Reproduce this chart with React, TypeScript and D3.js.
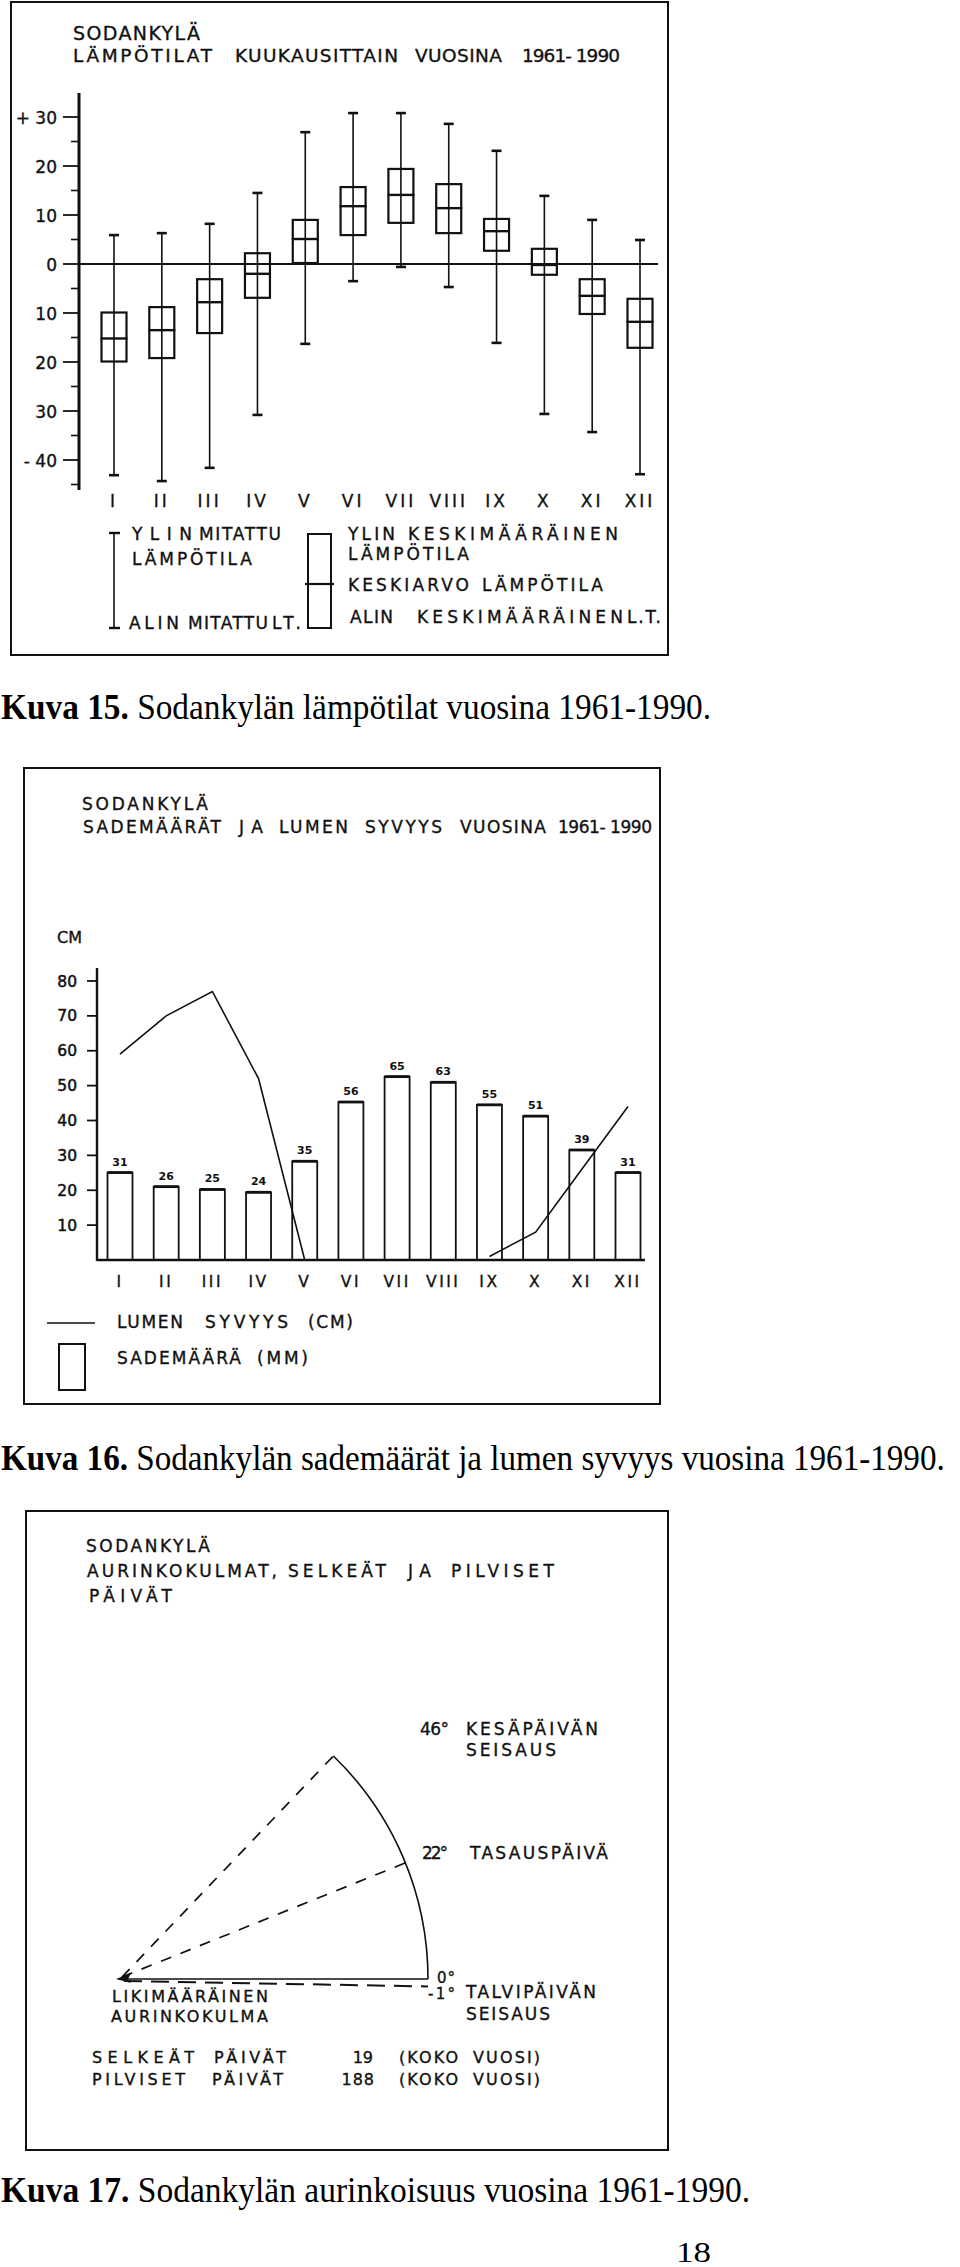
import React, { useLayoutEffect, useRef, useState } from "react";
import * as d3 from "d3";

// ---------- DATA ----------
const months = ["I", "II", "III", "IV", "V", "VI", "VII", "VIII", "IX", "X", "XI", "XII"];

// Kuva 15: temperatures (°C)
const tempMax = [5.9, 6.3, 8.2, 14.5, 26.9, 30.8, 30.8, 28.6, 23.1, 13.9, 9.0, 4.9];
const tempMeanMax = [-9.9, -8.8, -3.1, 2.2, 9.0, 15.7, 19.4, 16.3, 9.2, 3.1, -3.1, -7.1];
const tempMean = [-15.2, -13.5, -7.8, -2.0, 5.1, 11.8, 14.1, 11.4, 6.7, -0.2, -6.5, -11.8];
const tempMeanMin = [-19.9, -19.2, -14.1, -6.9, 0.2, 5.9, 8.4, 6.3, 2.7, -2.2, -10.2, -17.1];
const tempMin = [-43.1, -44.3, -41.6, -30.8, -16.3, -3.5, -0.6, -4.7, -16.1, -30.6, -34.3, -42.9];
const tempTicks = [30, 20, 10, 0, -10, -20, -30, -40];
const tempTickLabels = ["+ 30", "20", "10", "0", "10", "20", "30", "- 40"];
const tempMinorTicks = [25, 15, 5, -5, -15, -25, -35, -45];

// Kuva 16: precipitation (mm) and snow depth (cm)
const precipMm = [31, 26, 25, 24, 35, 56, 65, 63, 55, 51, 39, 31];
const snowCm: (number | null)[] = [59, 70, 77, 52, 0, null, null, null, 1, 8, 26, 44];
const cmTicks = [10, 20, 30, 40, 50, 60, 70, 80];

// Kuva 17: sun angles (degrees)
const sunRays = [46, 22];
const sunArc = [0, 46];
const sunLow = -1;
const clearDays = "19";
const cloudyDays = "188";

// ---------- HELPERS ----------
const SANS = "'DejaVu Sans', 'Noto Sans', sans-serif";
const SERIF = "'Liberation Serif', 'Times New Roman', serif";
const INK = "#111";
const TS = 0.35; // slight stroke to thicken the lettering

type Piece = [string, number, number];
function Pieces({ y, fs, pieces }: { y: number; fs: number; pieces: Piece[] }) {
  return (
    <>
      {pieces.map(([s, x0, x1], i) => (
        <text
          key={i}
          x={x0}
          y={y}
          fontSize={fs}
          fontFamily={SANS}
          fill={INK}
          stroke={INK}
          strokeWidth={TS}
          textLength={x1 - x0}
          lengthAdjust="spacing"
        >
          {s}
        </text>
      ))}
    </>
  );
}

function Caption({ y, w, bold, rest }: { y: number; w: number; bold: string; rest: string }) {
  const ref = useRef<SVGTextElement>(null);
  const [sx, setSx] = useState(0.9);
  useLayoutEffect(() => {
    const el = ref.current;
    if (el) {
      const n = el.getComputedTextLength();
      if (n > 0) setSx(w / n);
    }
  }, [w]);
  return (
    <text
      ref={ref}
      transform={`translate(1,${y}) scale(${sx},1)`}
      x={0}
      y={0}
      fontSize={36}
      fontFamily={SERIF}
      fill="#000"
    >
      <tspan fontWeight="bold">{bold}</tspan>
      <tspan>{rest}</tspan>
    </text>
  );
}

// ---------- FIGURE 1 ----------
function Fig1() {
  const x = d3.scalePoint<string>().domain(months).range([114, 640]);
  const y = d3.scaleLinear().domain([-40, 30]).range([460, 117]);
  const axisX = 79;
  const boxW = 25;
  const capW = 10;
  return (
    <g>
      <rect x={11} y={2} width={657} height={653} fill="none" stroke={INK} strokeWidth={2} />
      <Pieces y={40} fs={19} pieces={[["SODANKYLÄ", 73, 200]]} />
      <Pieces
        y={62}
        fs={18.5}
        pieces={[
          ["LÄMPÖTILAT", 73, 212],
          ["KUUKAUSITTAIN", 235, 398],
          ["VUOSINA", 415, 502],
          ["1961- 1990", 522, 620],
        ]}
      />
      {/* axis */}
      <line x1={axisX} x2={axisX} y1={93} y2={490} stroke={INK} strokeWidth={3} />
      <line x1={axisX} x2={658} y1={y(0)} y2={y(0)} stroke={INK} strokeWidth={2.2} />
      {tempTicks.map((t, i) => (
        <g key={t}>
          <line x1={axisX - 16} x2={axisX} y1={y(t)} y2={y(t)} stroke={INK} strokeWidth={1.8} />
          <text
            x={57}
            y={y(t) + 6.5}
            fontSize={17}
            fontFamily={SANS}
            textAnchor="end"
            fill={INK}
            stroke={INK}
            strokeWidth={TS}
          >
            {tempTickLabels[i]}
          </text>
        </g>
      ))}
      {tempMinorTicks.map((t) => (
        <line key={t} x1={axisX - 8} x2={axisX} y1={y(t)} y2={y(t)} stroke={INK} strokeWidth={1.6} />
      ))}
      {/* boxes */}
      {months.map((m, i) => {
        const cx = x(m)!;
        return (
          <g key={m}>
            <line x1={cx} x2={cx} y1={y(tempMax[i])} y2={y(tempMin[i])} stroke={INK} strokeWidth={1.6} />
            <line x1={cx - capW / 2} x2={cx + capW / 2} y1={y(tempMax[i])} y2={y(tempMax[i])} stroke={INK} strokeWidth={2.6} />
            <line x1={cx - capW / 2} x2={cx + capW / 2} y1={y(tempMin[i])} y2={y(tempMin[i])} stroke={INK} strokeWidth={2.6} />
            <rect
              x={cx - boxW / 2}
              y={y(tempMeanMax[i])}
              width={boxW}
              height={y(tempMeanMin[i]) - y(tempMeanMax[i])}
              fill="none"
              stroke={INK}
              strokeWidth={2.2}
            />
            <line x1={cx - boxW / 2 - 1} x2={cx + boxW / 2 + 1} y1={y(tempMean[i])} y2={y(tempMean[i])} stroke={INK} strokeWidth={2.4} />
            <text
              x={cx}
              y={507}
              fontSize={17}
              fontFamily={SANS}
              textAnchor="middle"
              letterSpacing={3}
              fill={INK}
              stroke={INK}
              strokeWidth={TS}
            >
              {m}
            </text>
          </g>
        );
      })}
      {/* legend */}
      <line x1={114} x2={114} y1={533} y2={628} stroke={INK} strokeWidth={1.6} />
      <line x1={109} x2={120} y1={533} y2={533} stroke={INK} strokeWidth={2.4} />
      <line x1={109} x2={120} y1={628} y2={628} stroke={INK} strokeWidth={2.4} />
      <Pieces y={540} fs={17} pieces={[["YLIN", 132, 192], ["MITATTU", 199, 281]]} />
      <Pieces y={565} fs={17} pieces={[["LÄMPÖTILA", 132, 252]]} />
      <Pieces y={629} fs={17} pieces={[["ALIN", 129, 179], ["MITATTU", 188, 268], ["LT.", 272, 301]]} />
      <rect x={308} y={534} width={23} height={94} fill="none" stroke={INK} strokeWidth={2} />
      <line x1={305} x2={334} y1={584} y2={584} stroke={INK} strokeWidth={2.2} />
      <Pieces y={540} fs={17} pieces={[["YLIN", 348, 395], ["KESKIMÄÄRÄINEN", 408, 618]]} />
      <Pieces y={560} fs={17} pieces={[["LÄMPÖTILA", 348, 469]]} />
      <Pieces y={591} fs={17} pieces={[["KESKIARVO", 348, 469], ["LÄMPÖTILA", 482, 603]]} />
      <Pieces y={623} fs={17} pieces={[["ALIN", 350, 393], ["KESKIMÄÄRÄINEN", 417, 623], ["L.T.", 627, 661]]} />
    </g>
  );
}

// ---------- FIGURE 2 ----------
function Fig2() {
  const x = d3.scalePoint<string>().domain(months).range([120, 628]);
  const yCm = d3.scaleLinear().domain([0, 80]).range([1260, 981]);
  const yMm = d3.scaleLinear().domain([0, 98.9]).range([1260, 981]);
  const axisX = 97;
  const barW = 25;
  const line = d3
    .line<number | null>()
    .defined((d) => d != null)
    .x((_, i) => x(months[i])!)
    .y((d) => yCm(d as number));
  return (
    <g>
      <rect x={24} y={768} width={636} height={636} fill="none" stroke={INK} strokeWidth={2} />
      <Pieces y={810} fs={17} pieces={[["SODANKYLÄ", 82, 208]]} />
      <Pieces
        y={833}
        fs={17}
        pieces={[
          ["SADEMÄÄRÄT", 83, 221],
          ["JA", 239, 263],
          ["LUMEN", 279, 348],
          ["SYVYYS", 365, 442],
          ["VUOSINA", 460, 546],
          ["1961- 1990", 558, 652],
        ]}
      />
      <Pieces y={943} fs={16} pieces={[["CM", 57, 82]]} />
      <line x1={axisX} x2={axisX} y1={968} y2={1261} stroke={INK} strokeWidth={2.4} />
      {cmTicks.map((t) => (
        <g key={t}>
          <line x1={axisX - 10} x2={axisX} y1={yCm(t)} y2={yCm(t)} stroke={INK} strokeWidth={1.8} />
          <text
            x={77}
            y={yCm(t) + 5.5}
            fontSize={15.5}
            fontFamily={SANS}
            textAnchor="end"
            fill={INK}
            stroke={INK}
            strokeWidth={0.5}
          >
            {t}
          </text>
        </g>
      ))}
      {months.map((m, i) => {
        const cx = x(m)!;
        const top = yMm(precipMm[i]);
        return (
          <g key={m}>
            <rect x={cx - barW / 2} y={top} width={barW} height={1260 - top} fill="#fff" stroke={INK} strokeWidth={1.8} />
            <line x1={cx - barW / 2} x2={cx + barW / 2} y1={top} y2={top} stroke={INK} strokeWidth={2.8} />
            <text x={cx} y={top - 7} fontSize={11} fontWeight="bold" fontFamily={SANS} textAnchor="middle" fill={INK}>
              {precipMm[i]}
            </text>
            <text
              x={cx}
              y={1287}
              fontSize={15.5}
              fontFamily={SANS}
              textAnchor="middle"
              letterSpacing={2.5}
              fill={INK}
              stroke={INK}
              strokeWidth={TS}
            >
              {m}
            </text>
          </g>
        );
      })}
      <line x1={axisX} x2={645} y1={1260} y2={1260} stroke={INK} strokeWidth={2.4} />
      <path d={line(snowCm) || ""} fill="none" stroke={INK} strokeWidth={1.6} />
      {/* legend */}
      <line x1={47} x2={95} y1={1323} y2={1323} stroke={INK} strokeWidth={1.6} />
      <Pieces y={1328} fs={17} pieces={[["LUMEN", 117, 183], ["SYVYYS", 205, 288], ["(CM)", 308, 353]]} />
      <rect x={59} y={1344} width={26} height={46} fill="none" stroke={INK} strokeWidth={2} />
      <Pieces y={1364} fs={17} pieces={[["SADEMÄÄRÄ", 117, 241], ["(MM)", 257, 308]]} />
    </g>
  );
}

// ---------- FIGURE 3 ----------
function Fig3() {
  const cx = 118;
  const cy = 1979;
  const r = 310;
  const rad = d3.scaleLinear().domain([0, 180]).range([0, Math.PI]);
  const pt = (deg: number) => [cx + r * Math.cos(rad(deg)), cy - r * Math.sin(rad(deg))];
  const arc = d3.path();
  const a0 = pt(sunArc[0]);
  arc.moveTo(a0[0], a0[1]);
  arc.arc(cx, cy, r, -rad(sunArc[0]), -rad(sunArc[1]), true);
  const p0 = pt(0);
  const pLow = pt(sunLow);
  return (
    <g>
      <rect x={26} y={1511} width={642} height={639} fill="none" stroke={INK} strokeWidth={2} />
      <Pieces y={1552} fs={17} pieces={[["SODANKYLÄ", 86, 210]]} />
      <Pieces
        y={1577}
        fs={17}
        pieces={[
          ["AURINKOKULMAT,", 87, 277],
          ["SELKEÄT", 288, 386],
          ["JA", 408, 431],
          ["PILVISET", 451, 554],
        ]}
      />
      <Pieces y={1602} fs={17} pieces={[["PÄIVÄT", 89, 172]]} />
      {/* rays */}
      {sunRays.map((a) => {
        const p = pt(a);
        return (
          <line key={a} x1={cx + 4} y1={cy - 2} x2={p[0]} y2={p[1]} stroke={INK} strokeWidth={1.7} strokeDasharray="11,10" />
        );
      })}
      <line x1={cx} y1={cy} x2={p0[0]} y2={p0[1]} stroke={INK} strokeWidth={1.5} />
      <line x1={cx + 6} y1={cy + 2} x2={pLow[0]} y2={pLow[1] + 2} stroke={INK} strokeWidth={2} strokeDasharray="18,9" />
      <path d={arc.toString()} fill="none" stroke={INK} strokeWidth={1.6} />
      <path d={`M${cx - 2},${cy} L${cx + 13},${cy - 6} L${cx + 10},${cy} L${cx + 13},${cy + 4} Z`} fill={INK} />
      {/* labels */}
      <Pieces y={1735} fs={17} pieces={[["46°", 420, 449], ["KESÄPÄIVÄN", 466, 598]]} />
      <Pieces y={1756} fs={17} pieces={[["SEISAUS", 466, 556]]} />
      <Pieces y={1859} fs={17} pieces={[["22°", 422, 448], ["TASAUSPÄIVÄ", 470, 608]]} />
      <Pieces y={1983} fs={15} pieces={[["0°", 437, 455]]} />
      <Pieces y={1999} fs={15} pieces={[["-1°", 428, 455]]} />
      <Pieces y={1998} fs={17} pieces={[["TALVIPÄIVÄN", 466, 596]]} />
      <Pieces y={2020} fs={17} pieces={[["SEISAUS", 466, 550]]} />
      <Pieces y={2002} fs={16} pieces={[["LIKIMÄÄRÄINEN", 112, 268]]} />
      <Pieces y={2022} fs={16} pieces={[["AURINKOKULMA", 111, 268]]} />
      <Pieces y={2063} fs={16} pieces={[["SELKEÄT", 92, 194], ["PÄIVÄT", 214, 286], ["(KOKO", 399, 458], ["VUOSI)", 473, 540]]} />
      <text x={373} y={2063} fontSize={16} fontFamily={SANS} textAnchor="end" fill={INK} stroke={INK} strokeWidth={TS}>
        {clearDays}
      </text>
      <Pieces y={2085} fs={16} pieces={[["PILVISET", 92, 185], ["PÄIVÄT", 212, 283], ["(KOKO", 399, 458], ["VUOSI)", 473, 540]]} />
      <text x={375} y={2085} fontSize={16} fontFamily={SANS} textAnchor="end" fill={INK} stroke={INK} strokeWidth={TS} letterSpacing={1}>
        {cloudyDays}
      </text>
    </g>
  );
}

export default function App() {
  return (
    <svg
      width={960}
      height={2267}
      viewBox="0 0 960 2267"
      style={{ position: "absolute", left: 0, top: 0, background: "#fff", display: "block" }}
    >
      <rect x={0} y={0} width={960} height={2267} fill="#fff" />
      <Fig1 />
      <Caption y={719} w={710} bold="Kuva 15." rest=" Sodankylän lämpötilat vuosina 1961-1990." />
      <Fig2 />
      <Caption y={1470} w={944} bold="Kuva 16." rest=" Sodankylän sademäärät ja lumen syvyys vuosina 1961-1990." />
      <Fig3 />
      <Caption y={2202} w={749} bold="Kuva 17." rest=" Sodankylän aurinkoisuus vuosina 1961-1990." />
      <text x={676} y={2262} fontSize={30} fontFamily={SERIF} fill="#000" textLength={35} lengthAdjust="spacingAndGlyphs">
        18
      </text>
    </svg>
  );
}
